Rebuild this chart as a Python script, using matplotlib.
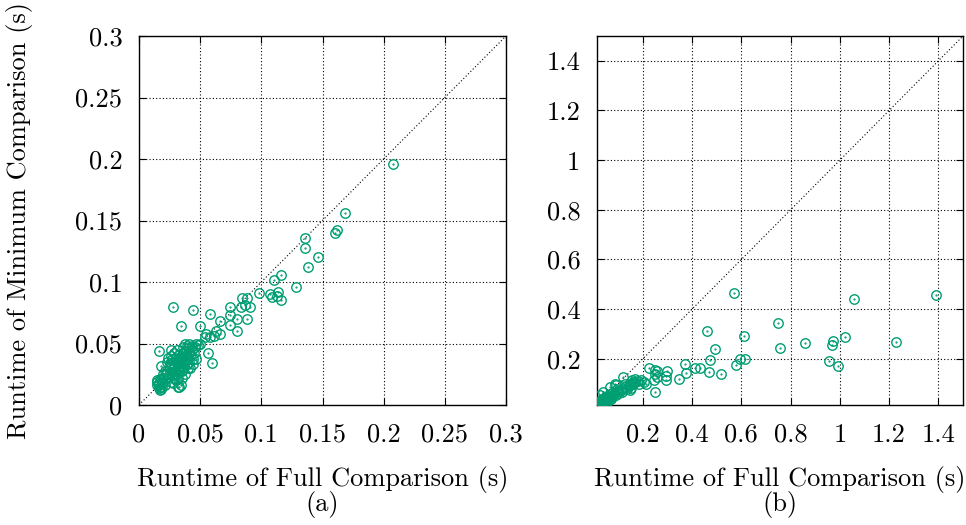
import matplotlib
matplotlib.use("Agg")
import matplotlib.pyplot as plt
import numpy as np

plt.rcParams['font.family'] = ['cmr10', 'DejaVu Serif']
plt.rcParams['mathtext.fontset'] = 'cm'
plt.rcParams['axes.formatter.use_mathtext'] = True

GREEN = '#009e73'
FS = 19

# (a) runtime of full comparison vs. minimum comparison (s)
full_a = [0.208, 0.168, 0.162, 0.160, 0.136, 0.136, 0.146, 0.138, 0.116, 0.110,
          0.128, 0.098, 0.114, 0.107, 0.109, 0.113, 0.116,
          0.084, 0.088, 0.083, 0.087, 0.091, 0.088, 0.080, 0.080, 0.074, 0.074,
          0.074, 0.066, 0.058, 0.028, 0.044, 0.034, 0.050,
          0.066, 0.061, 0.058, 0.054, 0.055, 0.063, 0.048, 0.056, 0.060, 0.047,
          0.016, 0.026, 0.038, 0.047, 0.050, 0.018, 0.032, 0.034, 0.015, 0.019,
          0.017, 0.033,
          0.015, 0.016, 0.017, 0.018, 0.019, 0.020, 0.016, 0.018, 0.021, 0.017, 0.015,
          0.022, 0.023, 0.024, 0.025, 0.025, 0.026, 0.027, 0.027, 0.028, 0.028,
          0.029, 0.029, 0.030, 0.030, 0.031, 0.031, 0.032, 0.032, 0.033, 0.033,
          0.034, 0.034, 0.035, 0.035, 0.036, 0.036, 0.037, 0.037, 0.038, 0.038,
          0.039, 0.039, 0.040, 0.040, 0.041, 0.041, 0.042, 0.043, 0.044, 0.045,
          0.046, 0.023, 0.024, 0.026, 0.021, 0.020, 0.028, 0.030, 0.035, 0.038,
          0.042, 0.044, 0.029, 0.031, 0.033, 0.036, 0.039, 0.043, 0.041, 0.027,
          0.025, 0.032, 0.026, 0.035, 0.040]
min_a = [0.196, 0.156, 0.142, 0.140, 0.136, 0.128, 0.120, 0.112, 0.106, 0.102,
         0.096, 0.091, 0.092, 0.090, 0.088, 0.089, 0.085,
         0.087, 0.087, 0.080, 0.081, 0.080, 0.070, 0.070, 0.060, 0.080, 0.073,
         0.065, 0.068, 0.074, 0.080, 0.077, 0.064, 0.064,
         0.058, 0.056, 0.055, 0.055, 0.058, 0.060, 0.049, 0.042, 0.034, 0.037,
         0.044, 0.045, 0.050, 0.050, 0.050, 0.032, 0.015, 0.016, 0.019, 0.015,
         0.012, 0.015,
         0.020, 0.017, 0.015, 0.020, 0.018, 0.022, 0.014, 0.013, 0.016, 0.021, 0.016,
         0.025, 0.028, 0.022, 0.030, 0.026, 0.033, 0.024, 0.029, 0.027, 0.034,
         0.031, 0.022, 0.028, 0.036, 0.033, 0.025, 0.030, 0.038, 0.035, 0.027,
         0.032, 0.040, 0.037, 0.030, 0.034, 0.042, 0.039, 0.031, 0.036, 0.044,
         0.041, 0.033, 0.038, 0.046, 0.043, 0.035, 0.040, 0.045, 0.037, 0.042,
         0.047, 0.035, 0.038, 0.040, 0.028, 0.025, 0.018, 0.020, 0.022, 0.025,
         0.030, 0.033, 0.042, 0.045, 0.041, 0.047, 0.048, 0.048, 0.050, 0.037,
         0.034, 0.021, 0.019, 0.028, 0.030]

# (b)
full_b = [0.572, 1.058, 1.392, 0.749, 0.462, 0.609, 1.021, 0.857, 0.973, 0.970,
          1.228, 0.755, 0.494, 0.471, 0.954, 0.994, 0.595, 0.613, 0.579, 0.373,
          0.413, 0.431, 0.467, 0.517, 0.375, 0.347, 0.226, 0.251, 0.258, 0.298,
          0.251, 0.295, 0.294, 0.258, 0.247, 0.251, 0.212, 0.192, 0.168, 0.162,
          0.120, 0.154, 0.148, 0.093, 0.066, 0.039, 0.026,
          0.155, 0.183, 0.203, 0.149, 0.108, 0.088, 0.095, 0.128,
          0.016, 0.018, 0.020, 0.022, 0.024, 0.026, 0.028, 0.030, 0.032, 0.035,
          0.038, 0.040, 0.043, 0.046, 0.050, 0.053, 0.056, 0.060, 0.064, 0.068,
          0.072, 0.076, 0.080, 0.085, 0.090, 0.095, 0.100, 0.105, 0.110, 0.115,
          0.120, 0.128, 0.135, 0.142, 0.150, 0.160, 0.170, 0.180, 0.019, 0.023,
          0.027, 0.031, 0.036, 0.045, 0.055, 0.065, 0.075, 0.058, 0.070, 0.017,
          0.021, 0.025]
min_b = [0.464, 0.442, 0.457, 0.345, 0.312, 0.292, 0.289, 0.265, 0.273, 0.255,
         0.267, 0.242, 0.238, 0.195, 0.191, 0.170, 0.198, 0.200, 0.175, 0.179,
         0.164, 0.165, 0.145, 0.138, 0.141, 0.118, 0.165, 0.154, 0.150, 0.150,
         0.138, 0.130, 0.114, 0.126, 0.114, 0.065, 0.100, 0.114, 0.117, 0.108,
         0.125, 0.082, 0.100, 0.094, 0.087, 0.067, 0.054,
         0.114, 0.100, 0.107, 0.074, 0.074, 0.100, 0.080, 0.100,
         0.015, 0.018, 0.016, 0.020, 0.022, 0.018, 0.025, 0.022, 0.028, 0.026,
         0.030, 0.034, 0.031, 0.036, 0.040, 0.035, 0.042, 0.045, 0.040, 0.048,
         0.052, 0.046, 0.055, 0.060, 0.054, 0.065, 0.070, 0.062, 0.075, 0.068,
         0.080, 0.086, 0.078, 0.090, 0.095, 0.098, 0.105, 0.110, 0.024, 0.026,
         0.032, 0.036, 0.040, 0.048, 0.050, 0.058, 0.062, 0.030, 0.038, 0.020,
         0.017, 0.027]

ticks_a = [0, 0.05, 0.1, 0.15, 0.2, 0.25, 0.3]
ticklabels_a = ['0', '0.05', '0.1', '0.15', '0.2', '0.25', '0.3']
ticks_b = [0.2, 0.4, 0.6, 0.8, 1.0, 1.2, 1.4]
ticklabels_b = ['0.2', '0.4', '0.6', '0.8', '1', '1.2', '1.4']


def style_panel(ax, lo, hi, ticks, labels):
    ax.set_xlim(lo, hi)
    ax.set_ylim(lo, hi)
    ax.plot([lo, hi], [lo, hi], color='black', lw=0.8, ls=(0, (1, 2)), zorder=1)
    ax.set_xticks(ticks, labels)
    ax.set_yticks(ticks, labels)
    ax.tick_params(direction='in', length=5, width=0.8, top=True, right=True,
                   labelsize=FS)
    ax.tick_params(axis='x', pad=13)
    ax.tick_params(axis='y', pad=12)
    ax.grid(True, color='black', lw=0.8, ls=(0, (1, 2)))
    ax.set_axisbelow(True)
    for s in ax.spines.values():
        s.set_linewidth(1.0)


def draw_points(ax, x, y):
    ax.plot(x, y, 'o', mfc='none', mec=GREEN, mew=1.0, ms=6.8, zorder=3)
    ax.plot(x, y, '.', color=GREEN, ms=1.2, zorder=3)


fig = plt.figure(figsize=(9.66, 5.25), dpi=100)
ax1 = fig.add_axes([139 / 966, 120 / 525, 367 / 966, 369 / 525])
ax2 = fig.add_axes([597 / 966, 120 / 525, 366 / 966, 369 / 525])

draw_points(ax1, full_a, min_a)
style_panel(ax1, 0, 0.3, ticks_a, ticklabels_a)

draw_points(ax2, full_b, min_b)
style_panel(ax2, 0.014, 1.5, ticks_b, ticklabels_b)

for ax, cap in [(ax1, '(a)'), (ax2, '(b)')]:
    pos = ax.get_position()
    cx = pos.x0 + pos.width / 2
    fig.text(cx, 1 - 486 / 525, 'Runtime of Full Comparison (s)', ha='center',
             va='baseline', fontsize=FS)
    fig.text(cx, 1 - 511 / 525, cap, ha='center', va='baseline', fontsize=FS)

fig.text(20 / 966, 1 - 220 / 525, 'Runtime of Minimum Comparison (s)',
         rotation=90, ha='center', va='center', fontsize=FS)

fig.savefig('out.png', dpi=100)
